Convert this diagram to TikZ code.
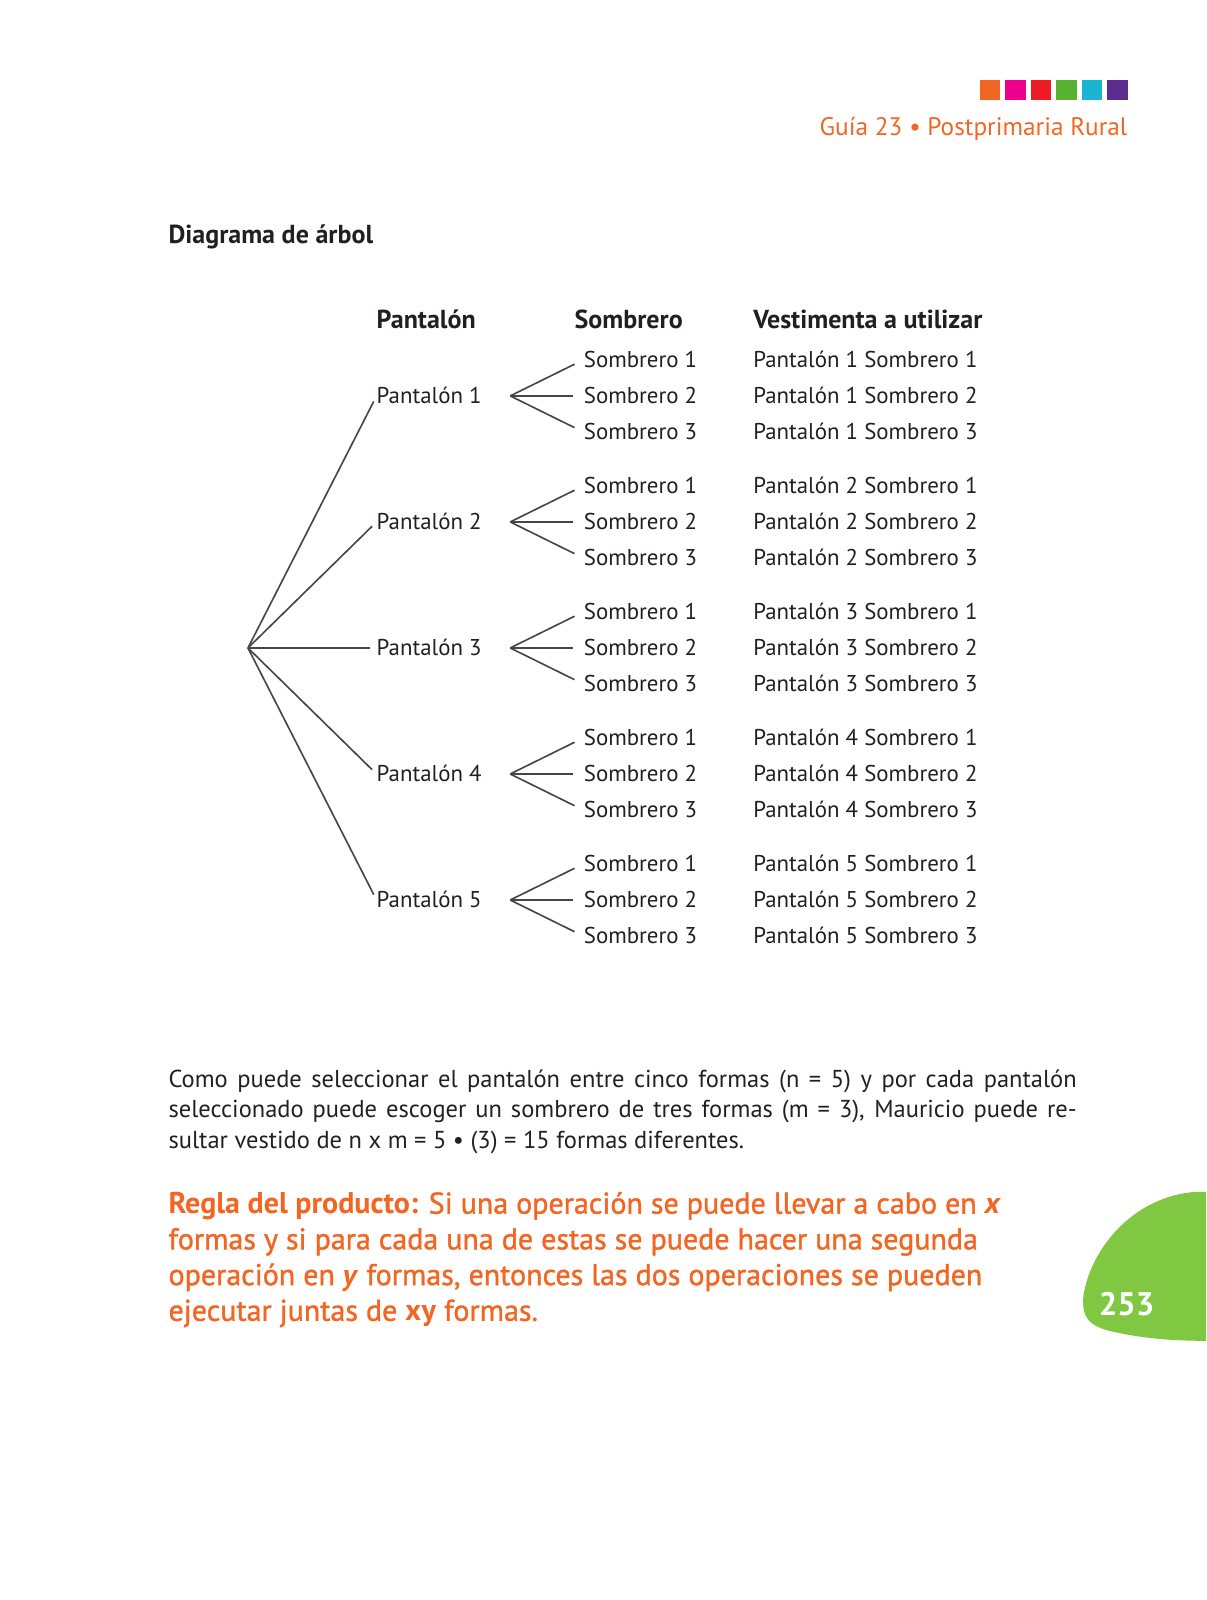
\documentclass[tikz,border=0pt]{standalone}
\usepackage{fontspec}
\setmainfont{PT Sans}
\newfontfamily\rulefont[FakeBold=1.2]{PT Sans}
\usetikzlibrary{positioning}
\definecolor{guiaorange}{RGB}{242,101,34}
\definecolor{inkgray}{RGB}{35,31,32}
\definecolor{linegray}{RGB}{70,70,70}
\definecolor{leafgreen}{RGB}{128,199,66}
\definecolor{sqmagenta}{RGB}{236,0,140}
\definecolor{sqred}{RGB}{237,28,36}
\definecolor{sqgreen}{RGB}{87,178,47}
\definecolor{sqcyan}{RGB}{27,181,212}
\definecolor{sqpurple}{RGB}{92,45,145}
\tikzset{
	item/.style={anchor=west,inner sep=0pt,text=inkgray,font=\fontsize{22.4}{26}\selectfont,text height=15pt,text depth=0pt},
	head/.style={item,font=\fontsize{25.5}{30}\selectfont\bfseries,text height=17.5pt},
	branch/.style={draw=linegray,line width=1.6pt},
	square/.style={minimum size=20pt,inner sep=0pt,anchor=north west}
}

\begin{document}
\begin{tikzpicture}[x=1pt,y=-1pt]
		\useasboundingbox (0,0) rectangle (1182,1568);
		%color squares and running head
		\node[square,fill=guiaorange] (q1) at (960,78) {};
		\node[square,fill=sqmagenta] (q2) at (985,78) {};
		\node[square,fill=sqred] (q3) at (1010,78) {};
		\node[square,fill=sqgreen] (q4) at (1035,78) {};
		\node[square,fill=sqcyan] (q5) at (1060,78) {};
		\node[square,fill=sqpurple] (q6) at (1085,78) {};
		\node[anchor=base east,inner sep=0pt,text=guiaorange,font=\fontsize{24.8}{28}\selectfont] (guia) at (1105,133) {Guía 23 • Postprimaria Rural};
		%title and column heads
		\node[head] (title) at (165,230) {Diagrama de árbol};
		\node[head] (hp) at (369,313) {Pantalón};
		\node[head] (hs) at (563,313) {Sombrero};
		\node[head] (hv) at (738,313) {Vestimenta a utilizar};
		%tree
		\coordinate (root) at (243,635);
		\foreach \i in {1,...,5}{
			\pgfmathsetmacro\py{388+123.5*(\i-1)}
			\node[item] (p\i) at (369,\py) {Pantalón \i};
			\draw[branch,shorten >=6pt] (root)--(p\i.west);
			\coordinate (f\i) at (500,\py);
			\foreach \j in {1,2,3}{
				\pgfmathsetmacro\sy{\py+35.5*(\j-2)}
				\node[item] (s\i\j) at (572,\sy) {Sombrero \j};
				\node[item] (v\i\j) at (738,\sy) {Pantalón \i{} Sombrero \j};
				\draw[branch,shorten >=10pt] (f\i)--(s\i\j.west);
			}
		}
		%explanation
		\node[anchor=north west,inner sep=0pt,text width=890pt,align=justify,text=inkgray,font=\fontsize{24}{30}\selectfont] (expl) at (165,1048) {Como puede seleccionar el pantalón entre cinco formas (n = 5) y por cada pantalón\linebreak seleccionado puede escoger un sombrero de tres formas (m = 3), Mauricio puede re-\linebreak sultar vestido de n x m = 5 • (3) = 15 formas diferentes.};
		%product rule
		\node[anchor=north west,inner sep=0pt,align=left,text=guiaorange,font=\fontsize{29.4}{35}\selectfont] (rule) at (165,1168) {\textbf{Regla del producto:} {\rulefont Si una operación se puede llevar a cabo en} \textbf{\textit{x}}\\ {\rulefont formas y si para cada una de estas se puede hacer una segunda}\\ {\rulefont operación en} \textbf{\textit{y}} {\rulefont formas, entonces las dos operaciones se pueden}\\ {\rulefont ejecutar juntas de} \textbf{xy} {\rulefont formas.}};
		%page number
		\fill[leafgreen] (1182,1168)--(1172,1168) .. controls (1112,1172) and (1070,1222) .. (1062,1268) .. controls (1058,1298) and (1075,1302) .. (1100,1307) .. controls (1130,1313) and (1160,1314) .. (1182,1314)--cycle;
		\node[text=white,font=\fontsize{32}{36}\selectfont\bfseries] (page) at (1104,1278) {253};
	\end{tikzpicture}
\end{document}
